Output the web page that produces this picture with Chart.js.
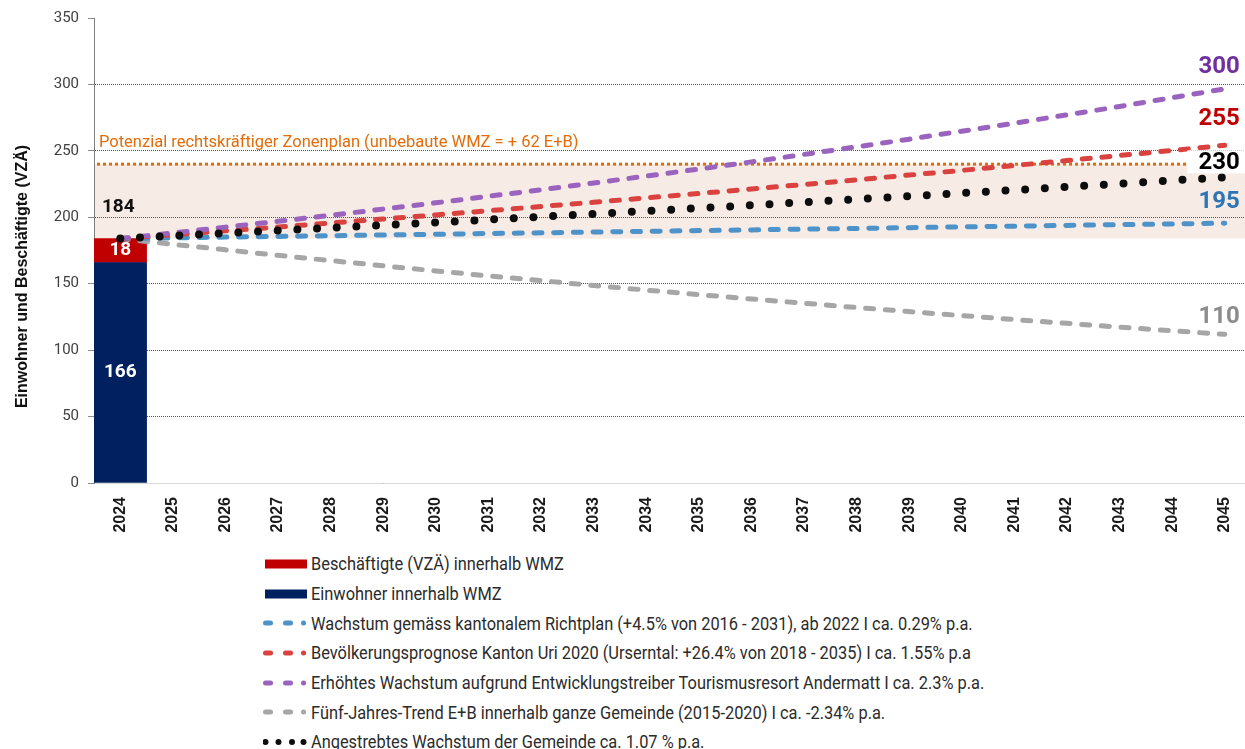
<!DOCTYPE html>
<html lang="de">
<head>
<meta charset="utf-8">
<title>Wachstumsszenarien Einwohner und Beschäftigte</title>
<script src="https://cdn.jsdelivr.net/npm/chart.js@4.4.1/dist/chart.umd.min.js"></script>
<style>
  html, body { margin: 0; padding: 0; background: #fff; overflow: hidden; }
  #wrap { position: relative; width: 1252px; height: 548px; }
  #legend { position: absolute; left: 263px; top: 549px; font-family: Roboto, sans-serif; font-size: 18px; color: #2b2b2b; }
  .row { height: 29.7px; display: flex; align-items: center; white-space: nowrap; }
  .row svg { width: 46px; height: 12px; margin-right: 2px; flex: none; }
  .row span { display: inline-block; transform: scaleX(0.91); transform-origin: left center; }
</style>
</head>
<body>
<div id="wrap"><canvas id="myChart"></canvas></div>
<div id="legend"></div>
<script>
var years = ["2024", "2025", "2026", "2027", "2028", "2029", "2030", "2031", "2032", "2033",
    "2034", "2035", "2036", "2037", "2038", "2039", "2040", "2041", "2042", "2043", "2044", "2045"];

// Stand 2024 (Säule)
var einwohner = [166];
var beschaeftigte = [18];

// Szenarien 2024 - 2045
var richtplan = [184, 184.5, 185.1, 185.6, 186.1, 186.7, 187.2, 187.8, 188.3, 188.9, 189.4,
    190.0, 190.5, 191.1, 191.6, 192.2, 192.8, 193.3, 193.9, 194.5, 195.0, 195.6];
var prognose = [184, 186.9, 189.8, 192.7, 195.7, 198.7, 201.8, 204.9, 208.1, 211.3, 214.6,
    217.9, 221.3, 224.7, 228.2, 231.8, 235.3, 239.0, 242.7, 246.5, 250.3, 254.2];
var tourismus = [184, 188.2, 192.6, 197.0, 201.5, 206.2, 210.9, 215.8, 220.7, 225.8, 231.0,
    236.3, 241.7, 247.3, 253.0, 258.8, 264.8, 270.8, 277.1, 283.4, 290.0, 296.6];
var trend = [184, 179.7, 175.5, 171.4, 167.4, 163.5, 159.6, 155.9, 152.3, 148.7, 145.2,
    141.8, 138.5, 135.3, 132.1, 129.0, 126.0, 123.0, 120.2, 117.3, 114.6, 111.9];
var angestrebt = [184, 186.0, 188.0, 190.0, 192.0, 194.1, 196.1, 198.2, 200.4, 202.5, 204.7,
    206.9, 209.1, 211.3, 213.6, 215.9, 218.2, 220.5, 222.9, 225.2, 227.7, 230.1];

// Beschriftung am Ende der Linien
var endLabels = ["195", "255", "300", "110", "230"];

var zonenplan = 240;
var zonenplanText = 'Potenzial rechtskräftiger Zonenplan (unbebaute WMZ = + 62 E+B)';
var yTitle = 'Einwohner und Beschäftigte (VZÄ)';

function lineSet(label, data, color, order, endLabel, labelColor, labelDy) {
    return {
        type: 'line',
        label: label,
        data: data,
        borderColor: color,
        borderWidth: 5,
        borderDash: [8, 11.7],
        borderCapStyle: 'round',
        pointRadius: 0,
        fill: false,
        tension: 0,
        stack: 'l' + order,
        order: order,
        endLabel: endLabel,
        labelColor: labelColor,
        labelDy: labelDy
    };
}

var datasets = [
    { type: 'bar', label: 'Beschäftigte (VZÄ) innerhalb WMZ', data: beschaeftigte,
      backgroundColor: '#c00000', stack: 'bar', order: 6, barPercentage: 1, categoryPercentage: 1 },
    { type: 'bar', label: 'Einwohner innerhalb WMZ', data: einwohner,
      backgroundColor: '#002060', stack: 'bar', order: 5, barPercentage: 1, categoryPercentage: 1 },
    lineSet('Wachstum gemäss kantonalem Richtplan (+4.5% von 2016 - 2031), ab 2022 I ca. 0.29% p.a.',
        richtplan, '#4d93c9', 3, endLabels[0], '#2e75b6', -22),
    lineSet('Bevölkerungsprognose Kanton Uri 2020 (Urserntal: +26.4% von 2018 - 2035) I ca. 1.55% p.a',
        prognose, '#d9423f', 2, endLabels[1], '#c00000', -27),
    lineSet('Erhöhtes Wachstum aufgrund Entwicklungstreiber Tourismusresort Andermatt I ca. 2.3% p.a.',
        tourismus, '#9a63bd', 1, endLabels[2], '#7030a0', -23),
    lineSet('Fünf-Jahres-Trend E+B innerhalb ganze Gemeinde (2015-2020) I ca. -2.34% p.a.',
        trend, '#a6a6a6', 4, endLabels[3], '#8c8c8c', -18)
];
var dotted = lineSet('Angestrebtes Wachstum der Gemeinde ca. 1.07 % p.a.',
    angestrebt, '#0d0d0d', 0, endLabels[4], '#000000', -15);
dotted.borderWidth = 8;
dotted.borderDash = [0, 19.7];
dotted.whiteBox = true;
dotted.dots = true;
datasets.push(dotted);

var extras = {
    id: 'extras',
    beforeDraw: function (chart) {
        var a = chart.chartArea, y = chart.scales.y, c = chart.ctx;
        var top = y.getPixelForValue(zonenplan);
        var bottom = y.getPixelForValue(einwohner[0] + beschaeftigte[0]);
        c.save();
        c.fillStyle = '#f7ebe6';
        c.fillRect(a.left + 1, top, a.right - a.left, bottom - top);
        c.restore();
    },
    beforeDatasetsDraw: function (chart) {
        var a = chart.chartArea, y = chart.scales.y, c = chart.ctx;
        var py = y.getPixelForValue(zonenplan);
        c.save();
        c.strokeStyle = '#e36c0a';
        c.lineWidth = 3;
        c.setLineDash([3, 3]);
        c.beginPath();
        c.moveTo(a.left + 3, py);
        c.lineTo(a.right, py);
        c.stroke();
        c.setLineDash([]);
        c.fillStyle = '#e36c0a';
        c.font = '16.5px Roboto';
        c.textBaseline = 'middle';
        c.fillText(zonenplanText, a.left + 5, py - 21);
        c.restore();
    },
    afterDatasetsDraw: function (chart) {
        var c = chart.ctx;
        c.save();
        c.textBaseline = 'middle';
        // Säulenbeschriftung
        c.font = 'bold 19px Roboto';
        c.textAlign = 'center';
        var top = null;
        chart.data.datasets.forEach(function (ds, i) {
            if (ds.type !== 'bar') return;
            var bar = chart.getDatasetMeta(i).data[0];
            c.fillStyle = '#ffffff';
            c.fillText(String(ds.data[0]), bar.x, (bar.y + bar.base) / 2);
            if (top === null || bar.y < top) top = bar.y;
        });
        c.fillStyle = '#111111';
        c.fillText(String(einwohner[0] + beschaeftigte[0]), chart.getDatasetMeta(0).data[0].x - 2, top - 31);
        // Endwerte der Szenarien
        c.font = 'bold 24px Roboto';
        c.textAlign = 'right';
        chart.data.datasets.forEach(function (ds, i) {
            if (!ds.endLabel) return;
            var pts = chart.getDatasetMeta(i).data;
            var p = pts[pts.length - 1];
            var tx = p.x + 15, ty = p.y + ds.labelDy;
            if (ds.whiteBox) {
                var w = c.measureText(ds.endLabel).width;
                c.fillStyle = '#ffffff';
                c.fillRect(tx - w - 11, ty - 12, w + 40, 23);
            }
            c.fillStyle = ds.labelColor;
            c.fillText(ds.endLabel, tx, ty + 1);
        });
        c.restore();
    },
    afterDraw: function (chart) {
        // Achsentitel, etwas unterhalb der Mitte wie im Original
        var c = chart.ctx, a = chart.chartArea;
        c.save();
        c.translate(23, (a.top + a.bottom) / 2 + 26);
        c.rotate(-Math.PI / 2);
        c.font = 'bold 16px "Liberation Sans", Arial';
        c.fillStyle = '#111111';
        c.textAlign = 'center';
        c.textBaseline = 'middle';
        c.fillText(yTitle, 0, 0);
        c.restore();
    }
};

var ctx = document.getElementById('myChart').getContext('2d');

var myChart = new Chart(ctx, {
    type: 'bar',
    data: {
        labels: years,
        datasets: datasets
    },
    options: {
        responsive: true,
        maintainAspectRatio: false,
        animation: false,
        layout: { padding: { top: 17, right: 1, left: 0, bottom: 0 } },
        plugins: {
            legend: { display: false },
            tooltip: { enabled: false }
        },
        scales: {
            x: {
                stacked: true,
                grid: { display: false },
                border: { display: true, color: '#d9d9d9', width: 1 },
                ticks: {
                    autoSkip: false,
                    minRotation: 90,
                    maxRotation: 90,
                    padding: 6,
                    color: '#1a1a1a',
                    font: { family: 'Liberation Sans, Arial', size: 16, weight: 'bold' }
                },
                afterFit: function (scale) { scale.height = 65; }
            },
            y: {
                stacked: true,
                min: 0,
                max: 350,
                ticks: {
                    stepSize: 50,
                    padding: 9,
                    color: '#404040',
                    font: { family: 'Roboto', size: 15 }
                },
                grid: {
                    color: function (c) { return c.tick && c.tick.value === 350 ? 'rgba(0,0,0,0)' : '#555555'; },
                    lineWidth: 1,
                    tickLength: 6,
                    tickColor: '#8c8c8c'
                },
                border: { display: true, color: '#7f7f7f', width: 1, dash: [1, 1] },
                afterFit: function (scale) { scale.width = 94; }
            }
        }
    },
    plugins: [extras]
});

// Legende als HTML, aus den Datensätzen erzeugt
var legendOrder = [0, 1, 2, 3, 4, 5, 6];
function symbol(ds) {
    var s = '<svg viewBox="0 0 46 12">';
    if (ds.type === 'bar') {
        s += '<rect x="2" y="1.5" width="42" height="9" fill="' + ds.backgroundColor + '"/>';
    } else if (ds.dots) {
        [2.5, 15.5, 29, 40.5].forEach(function (cx) {
            s += '<circle cx="' + cx + '" cy="6" r="3" fill="' + ds.borderColor + '"/>';
        });
    } else {
        s += '<g stroke="' + ds.borderColor + '" stroke-width="5" stroke-linecap="round">' +
            '<line x1="2.5" y1="6" x2="7.5" y2="6"/><line x1="22.5" y1="6" x2="27.5" y2="6"/>' +
            '<line x1="40.5" y1="6" x2="40.6" y2="6"/></g>';
    }
    return s + '</svg>';
}
var html = '';
legendOrder.forEach(function (i) {
    var ds = myChart.data.datasets[i];
    html += '<div class="row">' + symbol(ds) + '<span>' + ds.label + '</span></div>';
});
document.getElementById('legend').innerHTML = html;
</script>
</body>
</html>
